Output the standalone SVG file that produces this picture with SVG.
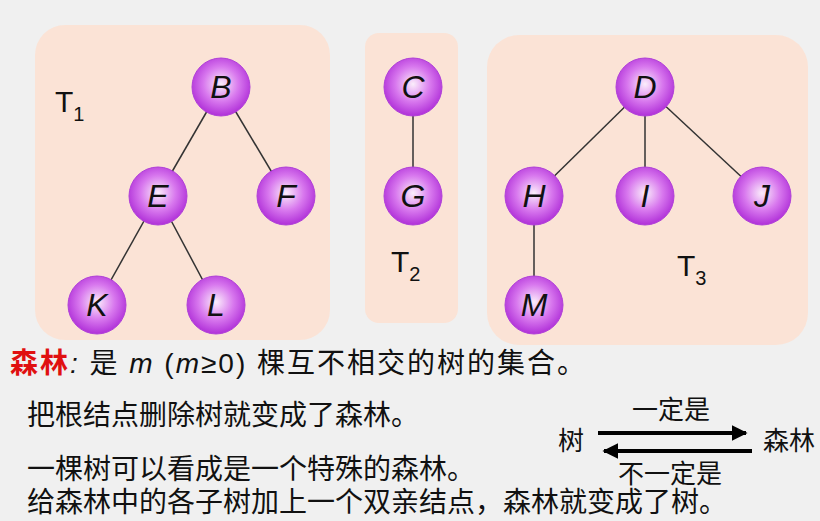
<svg xmlns="http://www.w3.org/2000/svg" width="820" height="521" viewBox="0 0 820 521">
<defs>
<radialGradient id="g" cx="0.5" cy="0.45" r="0.55">
<stop offset="0" stop-color="#fbeefb"/><stop offset="0.55" stop-color="#d878ee"/><stop offset="1" stop-color="#b030d8"/>
</radialGradient>
<marker id="ah" viewBox="0 0 10 10" refX="9" refY="5" markerWidth="4" markerHeight="4" orient="auto"><path d="M0,0 L10,5 L0,10 Z" fill="#000"/></marker>
</defs>
<style>
.p{fill:#fbe3d6}
.n circle{fill:url(#g);stroke:#b040d8;stroke-width:1}
.n text{font-family:"Liberation Sans",sans-serif;font-style:italic;font-size:32px;text-anchor:middle;fill:#111}
.e line{stroke:#333;stroke-width:1.5}
.t{font-family:"Liberation Sans","Noto Sans CJK SC",sans-serif;font-size:28px;fill:#111}
.s{font-family:"Liberation Sans","Noto Sans CJK SC",sans-serif;font-size:26px;fill:#111}
.lab{font-family:"Liberation Sans",sans-serif;font-size:30px;fill:#111}
</style>
<rect width="820" height="521" fill="#f0f0f0"/>
<rect class="p" x="35" y="25" width="295" height="315" rx="30"/>
<rect class="p" x="365" y="33" width="93" height="290" rx="14"/>
<rect class="p" x="487" y="35" width="321" height="310" rx="32"/>
<text class="lab" x="55" y="112">T<tspan font-size="20" dy="9">1</tspan></text>
<text class="lab" x="391" y="272">T<tspan font-size="20" dy="9">2</tspan></text>
<text class="lab" x="677" y="276">T<tspan font-size="20" dy="9">3</tspan></text>
<g id="connectors" class="e">
<line x1="221" y1="87" x2="158" y2="196"/><line x1="221" y1="87" x2="286" y2="196"/>
<line x1="158" y1="196" x2="97" y2="305"/><line x1="158" y1="196" x2="216" y2="305"/>
<line x1="413" y1="87" x2="413" y2="196"/>
<line x1="645" y1="87" x2="534" y2="196"/><line x1="645" y1="87" x2="645" y2="196"/><line x1="645" y1="87" x2="762" y2="196"/>
<line x1="534" y1="196" x2="534" y2="305"/>
</g>
<g id="B" class="n"><circle cx="221" cy="87" r="29"/><text x="221" y="98">B</text></g>
<g id="E" class="n"><circle cx="158" cy="196" r="29"/><text x="158" y="207">E</text></g>
<g id="F" class="n"><circle cx="286" cy="196" r="29"/><text x="286" y="207">F</text></g>
<g id="K" class="n"><circle cx="97" cy="305" r="29"/><text x="97" y="316">K</text></g>
<g id="L" class="n"><circle cx="216" cy="305" r="29"/><text x="216" y="316">L</text></g>
<g id="C" class="n"><circle cx="413" cy="87" r="29"/><text x="413" y="98">C</text></g>
<g id="G" class="n"><circle cx="413" cy="196" r="29"/><text x="413" y="207">G</text></g>
<g id="D" class="n"><circle cx="645" cy="87" r="29"/><text x="645" y="98">D</text></g>
<g id="H" class="n"><circle cx="534" cy="196" r="29"/><text x="534" y="207">H</text></g>
<g id="I" class="n"><circle cx="645" cy="196" r="29"/><text x="645" y="207">I</text></g>
<g id="J" class="n"><circle cx="762" cy="196" r="29"/><text x="762" y="207">J</text></g>
<g id="M" class="n"><circle cx="534" cy="305" r="29"/><text x="534" y="316">M</text></g>
<text class="t" x="10" y="373" font-size="30" textLength="575" lengthAdjust="spacing"><tspan fill="#e01010" font-weight="bold">森林</tspan><tspan font-style="italic">:</tspan> 是 <tspan font-style="italic">m</tspan> (<tspan font-style="italic">m</tspan>≥0) 棵互不相交的树的集合。</text>
<text class="t" x="27" y="425">把根结点删除树就变成了森林。</text>
<text class="t" x="27" y="479">一棵树可以看成是一个特殊的森林。</text>
<text class="t" x="27" y="512">给森林中的各子树加上一个双亲结点，森林就变成了树。</text>
<text class="s" x="558" y="450">树</text>
<text class="s" x="763" y="450">森林</text>
<text class="s" x="632" y="419">一定是</text>
<text class="s" x="618" y="483">不一定是</text>
<line x1="598" y1="433" x2="746" y2="433" stroke="#000" stroke-width="4" marker-end="url(#ah)"/>
<line x1="752" y1="451" x2="604" y2="451" stroke="#000" stroke-width="4" marker-end="url(#ah)"/>
</svg>
